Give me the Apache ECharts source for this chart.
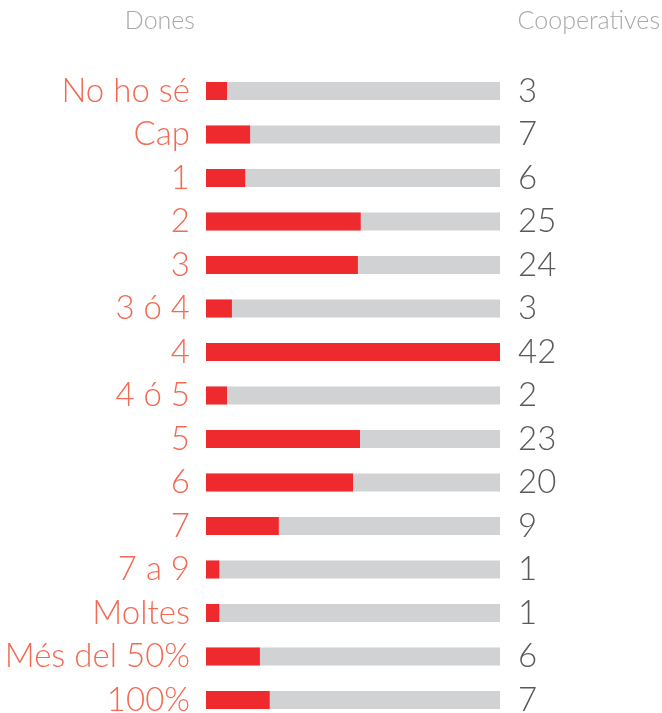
<!DOCTYPE html>
<html><head><meta charset="utf-8">
<script src="https://cdn.jsdelivr.net/npm/echarts@6/dist/echarts.min.js"></script>
<style>html,body{margin:0;padding:0;background:#fff}#c{width:662px;height:713px}</style>
</head><body><div id="c"></div>
<script>
var categories = ['No ho sé','Cap','1','2','3','3 ó 4','4','4 ó 5','5','6','7','7 a 9','Moltes','Més del 50%','100%'];
var counts = [3,7,6,25,24,3,42,2,23,20,9,1,1,6,7];
// bar lengths (same units, full bar = 42)
var barLengths = [3,6.3,5.6,22.1,21.7,3.7,42,3,22,21,10.4,1.9,1.9,7.7,9.1];
var axisMax = 42;

var chart = echarts.init(document.getElementById('c'));
var FONT = 'Lato, "Open Sans", sans-serif';
chart.setOption({
  animation:false,
  backgroundColor:'#fff',
  title:[
    {text:'Dones', left:195, top:8, padding:0, textAlign:'right', textStyle:{fontFamily:FONT, fontWeight:300, fontSize:25, color:'#a7a9ac'}},
    {text:'Cooperatives', right:2, top:8, padding:0, textStyle:{fontFamily:FONT, fontWeight:300, fontSize:25, color:'#a7a9ac'}}
  ],
  grid:{left:206, right:162, top:91, height:609, containLabel:false, outerBoundsMode:'none'},
  xAxis:{type:'value', min:0, max:axisMax, show:false},
  yAxis:[
    {type:'category', inverse:true, boundaryGap:false, data:categories, axisLine:{show:false}, axisTick:{show:false},
     axisLabel:{interval:0, margin:16, fontFamily:FONT, fontWeight:300, fontSize:33, color:'#f26a55'}},
    {type:'category', inverse:true, boundaryGap:false, position:'right', data:counts, axisLine:{show:false}, axisTick:{show:false},
     axisLabel:{interval:0, margin:18, fontFamily:FONT, fontWeight:300, fontSize:33, color:'#58595b'}}
  ],
  series:[{
    type:'bar', data:barLengths, barWidth:18, yAxisIndex:0,
    itemStyle:{color:'#ee2a2e'},
    showBackground:true, backgroundStyle:{color:'#d1d2d4'}
  }]
});
</script></body></html>
